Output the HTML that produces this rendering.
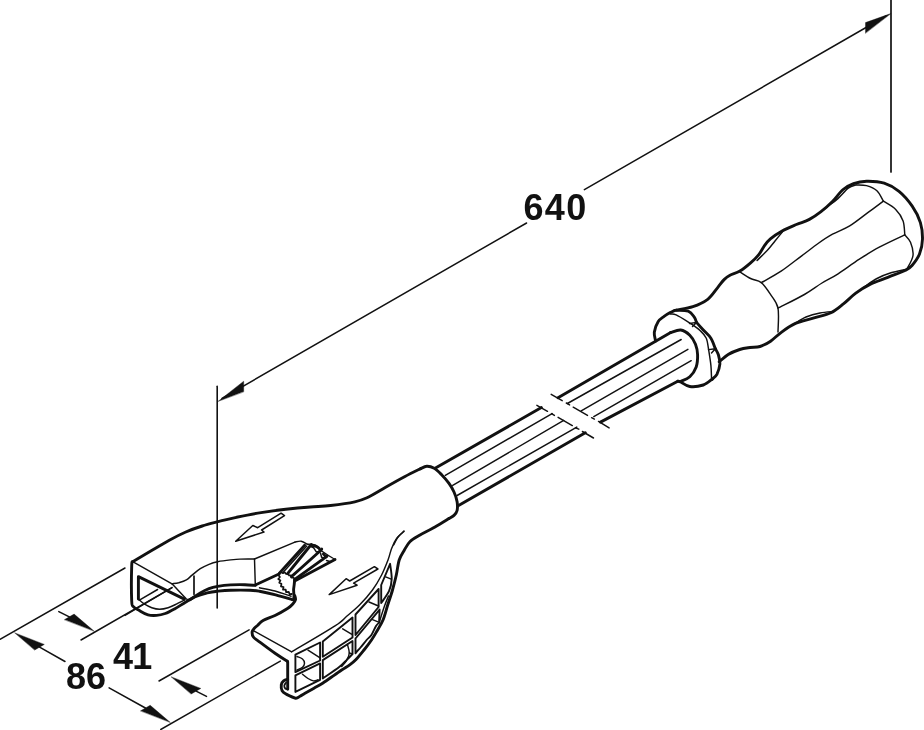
<!DOCTYPE html>
<html><head><meta charset="utf-8"><style>
html,body{margin:0;padding:0;background:#fff;width:924px;height:730px;overflow:hidden}
svg{display:block}
.t{font-family:"Liberation Sans",sans-serif;font-weight:bold;fill:#111}
svg{will-change:transform}
</style></head><body>
<svg width="924" height="730" viewBox="0 0 924 730">
<g fill="none" stroke="#111" stroke-linecap="round" stroke-linejoin="round">
<path d="M217.2 386.3 L217.2 608.0" stroke-width="1.6" />
<path d="M891.0 0.0 L891.0 172.0" stroke-width="1.7" />
<path d="M222.0 398.4 L526.6 223.0" stroke-width="1.5" />
<path d="M584.4 189.7 L886.0 16.0" stroke-width="1.5" />
<path d="M218.3 401.2 L243.7 381.2 L243.7 391.6 Z" fill="#111" stroke="#111" stroke-width="0.4" stroke-linejoin="miter"/>
<path d="M890.8 13.6 L865.5 22.6 L865.5 33.0 Z" fill="#111" stroke="#111" stroke-width="0.4" stroke-linejoin="miter"/>
<text class="t" x="523.5" y="220" font-size="36" letter-spacing="1.3" stroke="none">640</text>
<text class="t" x="66" y="689" font-size="36" stroke="none">86</text>
<text class="t" x="113" y="669" font-size="36" letter-spacing="-0.8" stroke="none">41</text>
<path d="M0.0 639.3 L125.0 568.0" stroke-width="1.5" />
<path d="M81.0 640.0 L172.0 587.6" stroke-width="1.5" />
<path d="M159.0 681.0 L249.1 629.9" stroke-width="1.5" />
<path d="M160.8 729.5 L280.3 661.1" stroke-width="1.5" />
<path d="M94.0 631.1 L74.1 614.1 L64.6 619.6 Z" fill="#111" stroke="#111" stroke-width="0.4" stroke-linejoin="miter"/>
<path d="M58.8 611.6 L69.3 616.9" stroke-width="1.5" />
<path d="M171.4 676.9 L200.8 688.4 L191.3 693.9 Z" fill="#111" stroke="#111" stroke-width="0.4" stroke-linejoin="miter"/>
<path d="M196.1 691.1 L206.5 696.4" stroke-width="1.5" />
<path d="M14.9 632.9 L44.3 644.4 L34.8 649.9 Z" fill="#111" stroke="#111" stroke-width="0.4" stroke-linejoin="miter"/>
<path d="M39.6 647.1 L65.0 661.5" stroke-width="1.5" />
<path d="M170.1 722.3 L150.2 705.3 L140.7 710.8 Z" fill="#111" stroke="#111" stroke-width="0.4" stroke-linejoin="miter"/>
<path d="M109.1 687.9 L145.4 708.0" stroke-width="1.5" />
<path d="M676.4 310.0 C679.1 309.4 687.7 308.5 692.9 306.7 C698.1 304.9 703.6 302.4 707.7 299.3 C711.8 296.2 714.8 291.1 717.5 287.8 C720.2 284.5 722.0 281.7 724.1 279.6 C726.2 277.5 727.4 276.6 730.0 275.2 C732.6 273.8 736.5 273.2 739.9 271.1 C743.3 269.1 747.5 265.6 750.6 262.9 C753.8 260.2 756.5 257.6 758.8 254.7 C761.1 251.8 762.6 248.2 764.5 245.6 C766.4 242.9 767.5 241.2 770.4 238.8 C773.3 236.4 777.8 233.4 782.1 231.0 C786.4 228.6 791.9 226.4 796.4 224.5 C800.9 222.6 805.3 221.6 809.4 219.4 C813.5 217.2 817.1 214.6 821.0 211.6 C824.9 208.6 829.0 204.9 832.7 201.2 C836.4 197.5 839.6 192.4 843.1 189.5 C846.6 186.6 849.6 185.0 853.5 183.6 C857.4 182.2 861.4 181.3 866.5 181.2 C871.6 181.1 878.8 181.5 884.2 183.2 C889.6 184.9 894.3 187.6 899.0 191.4 C903.7 195.2 908.6 201.0 912.2 206.2 C915.8 211.4 918.7 217.1 920.4 222.6 C922.1 228.1 922.6 233.8 922.5 239.0 C922.4 244.2 921.2 249.6 919.5 254.0 C917.8 258.4 914.3 262.8 912.0 265.5 C909.7 268.2 909.5 268.2 905.5 270.2 C901.5 272.2 893.7 274.9 887.8 277.3 C881.9 279.7 875.3 281.8 870.0 284.4 C864.7 287.0 860.2 289.9 855.8 293.2 C851.4 296.4 847.5 300.6 843.4 303.9 C839.3 307.2 836.0 310.4 831.0 312.8 C826.0 315.2 819.1 316.3 813.2 318.1 C807.3 319.9 800.8 321.0 795.5 323.4 C790.2 325.8 785.4 329.3 781.3 332.3 C777.1 335.3 774.1 338.8 770.6 341.2 C767.1 343.6 763.4 345.4 760.0 346.5 C756.6 347.6 753.4 347.0 750.0 347.5 C746.6 348.0 743.3 348.3 739.7 349.5 C736.1 350.7 731.6 352.4 728.2 354.5 C724.8 356.6 720.7 360.6 719.2 361.8" stroke-width="2.9" />
<path d="M757.1 260.4 C758.8 258.7 764.4 253.5 767.4 250.3 C770.4 247.1 772.5 244.1 775.0 241.0 C777.5 237.9 781.4 233.1 782.7 231.5" stroke-width="1.45" />
<path d="M824.0 209.5 C824.8 208.8 826.7 207.3 829.0 205.5 C831.3 203.7 834.7 201.5 837.9 198.6 C841.1 195.7 845.3 190.5 848.3 188.2 C851.3 185.9 854.8 185.4 856.1 184.9" stroke-width="1.45" />
<path d="M794.0 324.0 C796.0 322.8 801.7 318.8 806.0 317.0 C810.3 315.2 815.2 313.9 820.0 313.0 C824.8 312.1 832.1 311.6 834.5 311.3" stroke-width="1.45" />
<path d="M864.0 287.0 C866.2 285.6 872.5 280.9 877.0 278.5 C881.5 276.1 886.2 274.3 891.0 272.8 C895.8 271.3 903.1 270.1 905.5 269.5" stroke-width="1.45" />
<path d="M739.9 271.9 C741.7 273.0 747.0 276.7 750.6 278.5 C754.2 280.3 757.9 279.9 761.3 282.6 C764.7 285.3 768.0 290.6 770.8 294.9 C773.6 299.2 776.8 302.0 778.0 308.2 C779.2 314.4 778.0 327.9 778.0 331.9" stroke-width="1.45" />
<path d="M761.3 282.6 C764.6 280.7 774.4 275.7 781.1 271.2 C787.8 266.7 795.5 260.4 801.7 255.8 C807.9 251.2 813.0 247.1 818.1 243.5 C823.2 239.9 827.2 237.1 832.5 234.2 C837.8 231.3 843.8 229.5 849.7 225.9 C855.6 222.3 862.2 216.8 867.8 212.7 C873.4 208.6 880.8 203.1 883.4 201.2" stroke-width="1.45" />
<path d="M778.0 308.2 C782.4 305.9 797.1 298.7 804.4 294.5 C811.7 290.3 816.4 286.4 822.0 283.0 C827.6 279.6 831.9 277.8 838.1 273.8 C844.3 269.8 852.5 263.6 859.4 259.2 C866.3 254.8 871.7 251.2 879.3 247.2 C886.9 243.1 900.5 236.9 904.8 234.9" stroke-width="1.45" />
<path d="M856.1 184.9 C857.8 185.0 863.0 184.6 866.5 185.6 C870.0 186.6 874.1 188.2 876.9 190.8 C879.7 193.4 882.3 199.5 883.4 201.2" stroke-width="1.45" />
<path d="M883.4 201.2 C885.5 202.6 892.4 206.1 895.7 209.4 C899.0 212.7 901.6 216.7 903.1 220.9 C904.6 225.2 904.5 232.6 904.8 234.9" stroke-width="1.45" />
<path d="M904.8 234.9 C905.8 236.1 909.1 238.9 910.5 242.3 C911.9 245.7 913.5 251.1 913.0 255.5 C912.5 259.9 908.2 266.4 907.2 268.6" stroke-width="1.45" />
<path d="M655.6 341.0 C655.4 339.5 653.9 335.4 654.3 332.2 C654.7 329.0 656.5 324.3 658.1 321.7 C659.7 319.1 662.1 317.9 664.1 316.4 C666.1 314.9 668.4 313.6 670.2 312.6 C672.0 311.6 674.0 310.8 674.7 310.4" stroke-width="2.9" />
<path d="M674.7 310.4 C677.0 310.5 684.9 310.0 688.2 311.1 C691.5 312.2 692.9 315.2 694.3 317.1 C695.7 319.0 696.1 321.5 696.5 322.4" stroke-width="2.9" />
<path d="M696.5 322.4 C697.6 323.7 700.9 327.4 703.3 330.0 C705.7 332.6 708.9 335.1 710.9 338.2 C712.9 341.3 714.6 347.0 715.4 348.8" stroke-width="2.9" />
<path d="M715.4 348.8 C715.9 349.8 717.6 352.3 718.4 354.8 C719.1 357.3 720.1 360.6 719.9 363.9 C719.6 367.2 718.1 371.9 716.9 374.4 C715.6 376.9 713.1 378.2 712.4 379.0" stroke-width="2.9" />
<path d="M712.4 379.0 C710.9 380.0 707.1 383.8 703.3 385.0 C699.5 386.2 693.6 387.0 689.8 386.5 C686.0 386.0 682.7 382.9 680.7 382.0 C678.7 381.1 678.3 381.3 677.8 381.2" stroke-width="2.9" />
<path d="M670.2 314.1 C671.2 314.2 672.7 313.3 676.2 314.9 C679.7 316.5 688.8 322.4 691.3 323.9" stroke-width="1.45" />
<path d="M689.5 323.5 L696.5 322.4 L692.5 326.5" stroke-width="1.45" />
<path d="M691.3 323.9 C692.8 325.0 697.5 328.1 700.0 330.5 C702.5 332.9 704.9 335.0 706.3 338.2 C707.7 341.4 708.2 347.7 708.6 349.6" stroke-width="1.45" />
<path d="M708.6 349.6 L715.4 348.8 L711.5 353.0" stroke-width="1.45" />
<path d="M708.6 349.6 C709.0 352.2 710.4 360.5 710.9 365.4 C711.4 370.3 711.4 376.7 711.6 379.0 C711.9 381.3 712.3 379.0 712.4 379.0" stroke-width="1.45" />
<path d="M670.7 332.5 C672.4 332.1 677.5 329.6 680.7 330.0 C683.9 330.4 687.3 332.8 689.8 335.2 C692.3 337.6 694.2 341.0 695.5 344.3 C696.8 347.6 697.5 351.0 697.6 354.8 C697.7 358.6 697.5 363.2 696.2 366.9 C694.9 370.5 692.4 374.3 689.8 376.7 C687.2 379.1 682.2 380.7 680.7 381.5" stroke-width="2.9" />
<path d="M558.0 397.7 L670.7 332.5" stroke-width="2.9" />
<path d="M567.4 403.5 L681.2 339.5" stroke-width="1.45" />
<path d="M581.2 410.8 L687.9 349.3" stroke-width="1.45" />
<path d="M593.8 416.6 L691.2 360.7" stroke-width="1.45" />
<path d="M600.5 422.1 L677.8 381.2" stroke-width="2.9" />
<path d="M551.2 394.3 L562.2 400.7" stroke-width="1.45" />
<path d="M566.3 403.0 L569.6 404.9" stroke-width="1.45" />
<path d="M573.2 407.2 L587.5 415.4" stroke-width="1.45" />
<path d="M591.6 417.7 L594.4 419.1" stroke-width="1.45" />
<path d="M598.5 421.4 L609.1 427.9" stroke-width="1.45" />
<path d="M536.9 405.3 L547.5 411.3" stroke-width="1.45" />
<path d="M551.6 413.6 L554.4 415.4" stroke-width="1.45" />
<path d="M558.1 417.3 L572.3 425.6" stroke-width="1.45" />
<path d="M575.5 427.9 L578.8 429.2" stroke-width="1.45" />
<path d="M582.4 431.5 L593.5 438.0" stroke-width="1.45" />
<path d="M435.5 468.1 L541.4 407.6" stroke-width="2.9" />
<path d="M445.3 475.3 L552.1 413.6" stroke-width="1.45" />
<path d="M452.7 485.3 L563.7 420.4" stroke-width="1.45" />
<path d="M457.1 495.5 L576.8 427.1" stroke-width="1.45" />
<path d="M457.7 506.1 L585.3 432.7" stroke-width="2.9" />
<path d="M132.7 561.7 C136.1 559.7 146.8 553.4 152.9 549.8 C159.0 546.2 163.8 543.2 169.3 540.2 C174.8 537.2 180.3 534.4 185.8 532.0 C191.3 529.6 196.5 527.8 202.2 526.0 C207.9 524.2 214.3 522.7 220.0 521.2 C225.7 519.8 229.6 518.7 236.4 517.3 C243.2 515.9 252.9 513.9 261.1 512.6 C269.3 511.3 277.6 510.2 285.8 509.3 C294.0 508.4 302.9 507.6 310.4 507.0 C317.9 506.4 323.2 506.4 330.6 505.5 C338.0 504.6 348.7 503.1 354.8 501.8 C360.9 500.5 361.9 500.2 367.0 497.8 C372.1 495.4 378.9 491.1 385.2 487.5 C391.5 483.9 399.1 479.6 405.0 476.5 C410.9 473.4 418.1 469.9 420.7 468.6" stroke-width="2.9" />
<path d="M420.7 468.6 C421.7 468.2 424.6 466.4 426.8 466.3 C429.1 466.2 431.7 466.9 434.2 468.3 C436.7 469.7 439.1 472.2 441.6 474.7 C444.1 477.2 446.9 480.5 449.0 483.4 C451.1 486.3 452.6 488.9 454.0 492.0 C455.4 495.1 456.6 498.7 457.1 501.8 C457.6 504.9 457.6 508.2 457.1 510.5 C456.6 512.8 455.4 514.1 454.0 515.4 C452.6 516.7 449.8 518.0 449.0 518.5" stroke-width="2.9" />
<path d="M404.0 531.4 C403.0 532.3 399.7 534.7 398.0 537.0 C396.3 539.3 394.3 543.7 393.6 545.0" stroke-width="1.45" />
<path d="M449.0 518.5 C446.7 519.9 439.8 524.2 435.0 527.0 C430.2 529.8 424.1 532.6 420.0 535.0 C415.9 537.4 412.7 539.0 410.1 541.5 C407.5 544.0 406.2 546.9 404.4 550.0 C402.6 553.1 400.5 555.8 399.2 560.0 C397.9 564.2 397.4 570.0 396.3 575.0 C395.2 580.0 393.9 585.0 392.5 590.0 C391.1 595.0 389.3 600.0 387.7 605.0 C386.1 610.0 384.8 615.7 383.0 620.0 C381.2 624.3 378.9 627.7 377.0 631.0 C375.1 634.3 373.7 636.8 371.5 640.0 C369.3 643.2 366.6 646.8 364.0 650.0 C361.4 653.2 358.3 657.1 356.0 659.5 C353.7 661.9 352.3 662.9 350.0 664.6 C347.7 666.3 344.6 668.0 342.0 669.8 C339.4 671.5 337.6 672.9 334.4 675.1 C331.2 677.3 326.4 680.8 323.0 683.0 C319.6 685.2 317.0 686.5 314.0 688.2 C311.0 689.9 307.3 692.0 305.0 693.3 C302.7 694.6 301.6 695.4 300.0 696.2 C298.4 697.0 297.8 698.5 295.6 698.2 C293.4 697.9 288.9 695.6 286.6 694.4 C284.4 693.1 283.0 692.3 282.1 690.7 C281.2 689.1 281.1 686.3 281.3 684.7 C281.6 683.1 282.5 681.8 283.6 680.9 C284.7 680.0 287.0 679.6 287.7 679.4" stroke-width="2.9" />
<path d="M287.7 689.2 C287.3 689.1 285.9 689.1 285.3 688.5 C284.7 687.9 284.2 686.6 284.3 685.6 C284.4 684.6 285.7 683.1 286.0 682.6" stroke-width="1.8" />
<path d="M287.7 689.2 L287.7 662.0 L287.3 661.3" stroke-width="2.9" />
<path d="M287.3 661.3 C285.2 660.0 279.8 656.6 275.0 653.3 C270.2 650.0 262.3 644.0 258.7 641.3 C255.1 638.6 254.5 638.6 253.4 637.0 C252.3 635.4 252.0 633.2 252.2 631.8 C252.3 630.3 253.4 629.3 254.3 628.3 C255.2 627.2 256.0 626.8 257.5 625.5 C259.0 624.2 260.2 622.2 263.1 620.5 C266.0 618.8 270.9 617.5 275.0 615.5 C279.1 613.5 284.5 610.4 287.5 608.5 C290.5 606.6 291.5 605.5 292.8 604.0 C294.1 602.5 295.2 601.1 295.5 599.7 C295.8 598.3 294.9 596.3 294.8 595.6" stroke-width="2.9" />
<path d="M253.8 630.9 L291.2 651.7" stroke-width="1.45" />
<path d="M404.0 531.1 C402.8 532.3 398.7 535.6 396.6 538.5 C394.5 541.4 393.0 544.8 391.6 548.4 C390.2 552.0 389.7 555.6 388.0 560.0 C386.3 564.4 384.2 570.0 381.6 575.0 C379.0 580.0 376.2 585.0 372.5 590.0 C368.8 595.0 363.8 600.7 359.5 605.0 C355.2 609.3 351.1 612.5 347.0 616.0 C342.9 619.5 344.2 619.9 335.0 625.9 C325.8 631.9 298.8 647.6 291.6 651.9" stroke-width="1.45" />
<path d="M295.4 654.6 L320.1 642.5 L320.1 660.5 L295.4 672.1Z" stroke-width="1.9" />
<path d="M295.4 675.4 L320.1 663.4 L320.1 679.8 L295.4 691.9Z" stroke-width="1.9" />
<path d="M322.8 656.8 L322.8 641.4 L352.5 617.5 L352.5 637.5 L322.8 656.8 " stroke-width="1.9" />
<path d="M322.8 660.1 L352.5 641.0 L352.5 654.0 C351.6 655.0 349.0 657.6 346.8 659.8 C344.6 662.0 343.2 663.9 339.2 667.0 C335.2 670.1 325.5 676.6 322.8 678.5 L322.8 660.1 " stroke-width="1.9" />
<path d="M355.5 635.0 L355.5 614.5 L378.6 589.0 L378.6 607.0 L355.5 635.0 " stroke-width="1.9" />
<path d="M355.5 638.5 L379.6 609.6 L379.1 622.7 C378.6 623.2 377.3 624.0 376.0 626.0 C374.7 628.0 373.0 632.7 371.4 635.0 C369.8 637.3 368.4 637.9 366.6 640.0 C364.8 642.1 362.4 645.3 360.5 647.5 C358.6 649.7 356.3 652.3 355.5 653.3 L355.5 638.5 " stroke-width="1.9" />
<path d="M381.2 603.0 L381.2 585.0 L390.1 563.8 C390.4 566.3 391.9 574.5 391.7 579.1 C391.5 583.7 390.8 587.2 389.0 591.2 C387.2 595.2 382.5 601.0 381.2 603.0 " stroke-width="1.9" />
<path d="M388.5 596.0 C387.8 597.7 386.1 601.5 384.5 606.0 C382.9 610.5 380.0 619.9 379.1 622.7" stroke-width="1.45" />
<path d="M297.0 656.5 C297.9 656.9 301.2 657.9 302.5 659.0 C303.8 660.1 304.5 661.9 304.5 663.3 C304.5 664.7 303.8 666.1 302.5 667.2 C301.2 668.3 297.9 669.5 297.0 669.9" stroke-width="1.45" />
<path d="M308.0 650.2 L320.1 657.9" stroke-width="1.45" />
<path d="M302.5 674.3 C303.4 675.0 306.2 677.4 308.0 678.5 C309.8 679.6 311.8 680.7 313.5 680.9 C315.2 681.1 317.2 680.0 318.0 679.8" stroke-width="1.45" />
<path d="M342.7 628.8 L351.5 634.2" stroke-width="1.45" />
<path d="M347.4 644.4 C347.7 645.8 349.4 650.3 349.3 653.0 C349.2 655.7 347.8 658.5 346.5 660.7 C345.2 663.0 342.5 665.5 341.7 666.5" stroke-width="1.45" />
<path d="M349.3 653.0 L352.5 654.0" stroke-width="1.45" />
<path d="M369.0 602.0 L378.5 606.0" stroke-width="1.45" />
<path d="M372.5 619.7 L378.0 621.9" stroke-width="1.45" />
<path d="M385.7 576.9 L391.2 579.1" stroke-width="1.45" />
<path d="M132.7 561.7 C132.5 562.4 131.9 559.5 131.7 566.0 C131.5 572.5 131.4 594.2 131.7 601.0 C132.0 607.8 132.3 605.2 133.6 606.8 C134.9 608.4 137.0 609.2 139.4 610.6 C141.8 612.0 145.1 614.1 148.0 614.9 C150.9 615.7 153.7 615.6 156.6 615.4 C159.5 615.2 162.2 614.6 165.3 613.5 C168.4 612.4 171.7 610.5 174.9 608.7 C178.1 606.9 180.9 605.0 184.4 602.9 C187.9 600.8 192.2 598.1 196.0 596.4 C199.8 594.7 203.6 593.8 207.2 592.9 C210.8 592.0 213.7 591.6 217.6 591.2 C221.5 590.8 225.2 590.4 230.6 590.3 C236.0 590.1 245.2 590.1 250.0 590.3 C254.8 590.4 255.2 590.5 259.5 591.2 C263.8 592.0 270.3 593.4 275.7 594.8 C281.1 596.2 289.3 598.8 292.0 599.6" stroke-width="2.9" />
<path d="M138.4 599.1 L138.4 576.6 L184.4 599.1" stroke-width="2.9" />
<path d="M138.4 599.1 C139.4 599.9 142.0 602.5 144.2 603.9 C146.4 605.3 149.2 606.8 151.8 607.7 C154.4 608.6 156.8 609.2 159.5 609.2 C162.2 609.2 165.2 608.6 168.1 607.7 C171.0 606.8 174.1 605.2 176.8 603.9 C179.5 602.6 183.1 600.7 184.4 600.1" stroke-width="1.45" />
<path d="M132.7 561.7 L172.0 583.8 L186.4 599.1 L189.9 599.8" stroke-width="1.45" />
<path d="M189.9 599.8 C191.6 598.6 197.1 594.8 200.3 592.9 C203.5 591.0 206.1 589.7 209.0 588.6 C211.9 587.5 214.0 587.0 217.6 586.4 C221.2 585.8 226.0 585.2 230.6 584.9 C235.2 584.6 240.9 584.6 245.0 584.7 C249.1 584.8 253.6 585.3 255.3 585.4" stroke-width="2.9" />
<path d="M259.5 587.8 C262.1 588.3 269.8 589.6 275.0 591.0 C280.2 592.4 288.3 595.3 291.0 596.2" stroke-width="1.45" />
<path d="M172.0 583.8 C173.1 583.6 176.3 583.4 178.7 582.8 C181.1 582.1 184.2 581.2 186.4 579.9 C188.6 578.6 189.8 577.0 192.1 575.1 C194.4 573.2 197.5 570.5 200.3 568.7 C203.1 566.9 206.1 565.5 209.0 564.3 C211.9 563.1 214.0 562.4 217.6 561.7 C221.2 561.0 226.9 560.3 230.6 559.9 C234.3 559.5 237.1 559.2 240.0 559.1 C242.9 559.0 245.6 559.0 248.0 559.0 C250.4 559.0 253.4 559.0 254.5 559.0" stroke-width="1.45" />
<path d="M254.5 559.0 L294.9 542.1" stroke-width="1.45" />
<path d="M294.9 542.1 C295.9 542.0 299.1 540.8 301.2 541.2 C303.3 541.6 306.4 543.8 307.4 544.3" stroke-width="1.45" />
<path d="M254.5 559.0 L255.3 585.0" stroke-width="1.45" />
<path d="M255.3 585.0 L279.0 574.0" stroke-width="2.9" />
<path d="M194.0 576.1 L194.0 594.3" stroke-width="1.7" />
<path d="M125.0 615.4 L172.0 587.6" stroke-width="1.45" />
<path d="M139.4 600.1 L157.6 589.5" stroke-width="1.45" />
<path d="M307.4 544.3 C308.7 544.4 313.0 544.1 315.4 545.2 C317.8 546.3 318.3 548.6 321.6 551.0 C324.9 553.4 332.8 558.1 335.0 559.5" stroke-width="1.45" />
<path d="M335.0 559.5 L294.7 581.0" stroke-width="2.9" />
<path d="M279.4 573.1 L304.7 545.2" stroke-width="2.9" />
<path d="M283.2 572.3 L306.8 546.1" stroke-width="1.45" />
<path d="M287.6 573.7 C291.2 569.2 305.3 551.7 309.2 547.0 C313.1 542.3 310.2 545.6 310.8 545.6 C311.4 545.6 312.6 546.6 313.0 546.8" stroke-width="2.9" />
<path d="M291.4 576.7 C296.1 572.5 314.6 556.0 319.4 551.5 C324.1 547.0 320.2 550.2 319.9 549.5 C319.6 548.8 318.6 547.9 317.7 547.3 C316.8 546.7 315.0 546.0 314.5 545.7" stroke-width="2.9" />
<path d="M294.7 579.5 C299.6 576.0 319.2 562.0 324.3 558.2 C329.4 554.4 325.6 557.2 325.5 556.5 C325.4 555.8 323.8 554.4 323.4 554.0" stroke-width="2.9" />
<path d="M313.0 546.8 L316.3 551.9 L319.4 551.5" stroke-width="1.45" />
<path d="M320.5 553.0 L321.6 557.3 L324.3 558.2" stroke-width="1.45" />
<path d="M326.5 560.5 L330.6 561.7 L335.0 559.5" stroke-width="1.45" />
<path d="M279.4 573.1 L278.4 574.9 L279.9 577.0 L278.3 579.0 L280.4 580.4 L279.3 582.7 L281.4 583.8 L281.0 586.4 L283.5 587.1 L283.0 589.6 L285.7 589.7 L286.2 592.2 L288.8 592.0 L289.7 594.3 L291.8 594.0" stroke-width="1.8" />
<path d="M294.7 579.5 L293.9 577.8 L291.7 577.6 L291.2 575.4 L289.0 575.5 L288.3 573.4 L286.1 574.1 L284.8 572.3 L283.0 573.3 L281.0 572.2 L279.4 573.1" stroke-width="1.6" />
<path d="M294.7 579.5 C294.6 580.4 294.4 582.8 294.2 584.6 C294.0 586.4 293.6 588.2 293.6 590.1 C293.6 592.0 294.0 594.4 294.0 596.0 C294.0 597.6 293.6 599.3 293.5 600.0" stroke-width="2.9" />
<path d="M235.7 541.2 L252.8 525.5 L257.7 527.7 L281.1 513.2 L284.5 515.6 L261.6 530.0 L264.0 532.0Z" stroke-width="1.5" />
<path d="M329.2 594.6 L346.1 578.7 L349.7 581.0 L374.4 566.7 L377.9 569.0 L353.6 583.2 L357.1 585.2Z" stroke-width="1.5" />
</g>
</svg>
</body></html>
